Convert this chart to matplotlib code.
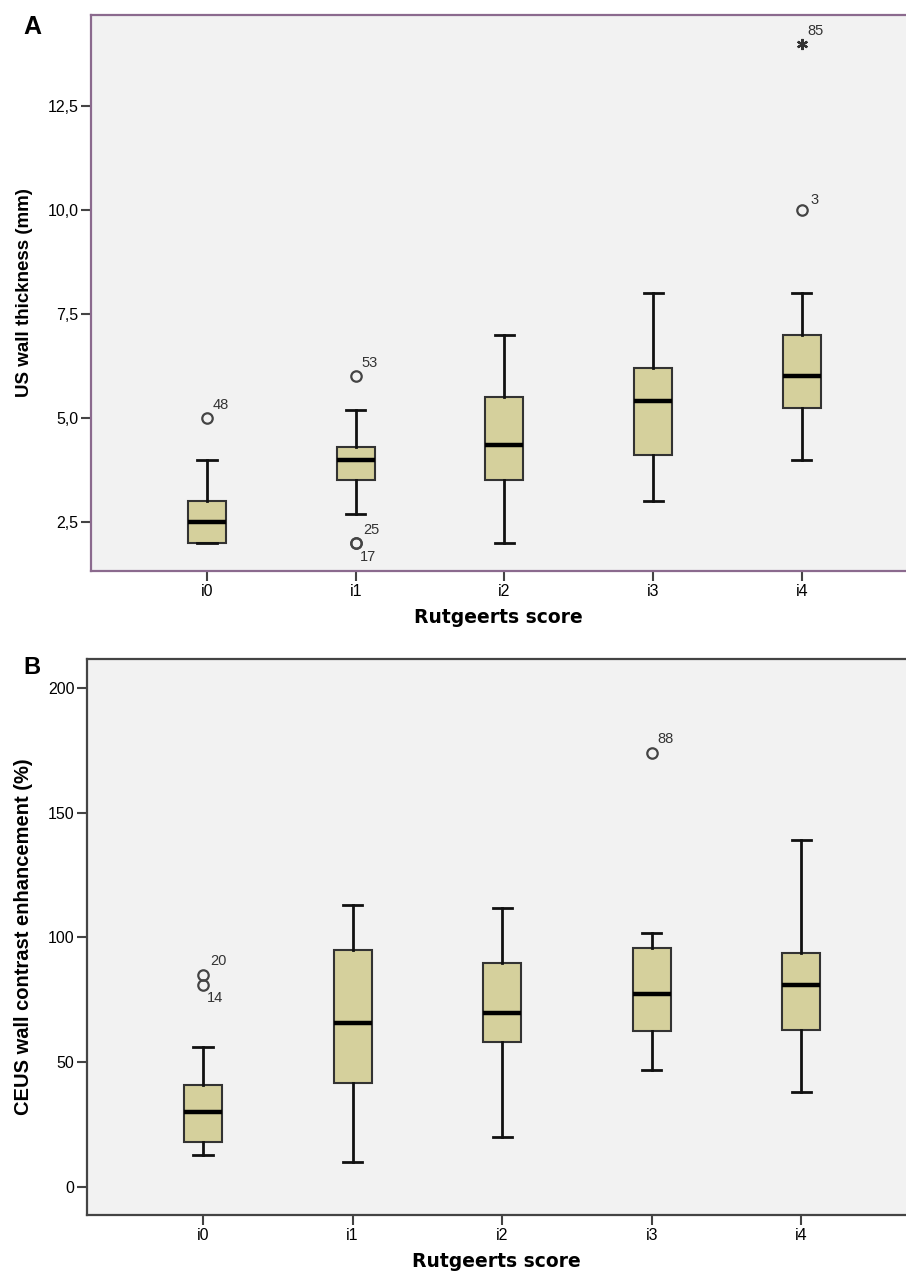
import matplotlib.pyplot as plt
from matplotlib.ticker import FuncFormatter

plt.rcParams['font.family'] = ['Liberation Sans', 'DejaVu Sans']

groups = ['i0', 'i1', 'i2', 'i3', 'i4']

# A - US wall thickness (mm)
us_whislo = [2.0, 2.7, 2.0, 3.0, 4.0]
us_q1 = [2.0, 3.5, 3.5, 4.1, 5.25]
us_med = [2.5, 4.0, 4.35, 5.4, 6.0]
us_q3 = [3.0, 4.3, 5.5, 6.2, 7.0]
us_whishi = [4.0, 5.2, 7.0, 8.0, 8.0]
us_out = [[5.0], [6.0, 2.0, 2.0], [], [], [10.0]]
us_out_ids = [['48'], ['53', '25', '17'], [], [], ['3']]
us_extreme = [[], [], [], [], [14.0]]
us_extreme_ids = [[], [], [], [], ['85']]

# B - CEUS wall contrast enhancement (%)
ceus_whislo = [13, 10, 20, 47, 38]
ceus_q1 = [18, 41.6, 58, 62.4, 62.8]
ceus_med = [30, 65.6, 69.6, 77.2, 80.8]
ceus_q3 = [41, 94.8, 89.6, 95.6, 93.6]
ceus_whishi = [56, 113, 112, 102, 139]
ceus_out = [[85, 81], [], [], [174], []]
ceus_out_ids = [['20', '14'], [], [], ['88'], []]

# label offsets (pixels) for the case numbers
us_id_off = {'48': (6, 13), '53': (6, 13), '25': (8, 13), '17': (4, -14), '3': (9, 10), '85': (5, 13)}
ceus_id_off = {'20': (7, 14), '14': (4, -13), '88': (6, 14)}

box_color = '#d5d09c'
bg = '#f2f2f2'

fig = plt.figure(figsize=(9.06, 12.74), dpi=100)
W, H = 906, 1274


def make_stats(lo, q1, med, q3, hi, out):
    stats = []
    for i in range(len(med)):
        stats.append({'whislo': lo[i], 'q1': q1[i], 'med': med[i], 'q3': q3[i],
                      'whishi': hi[i], 'fliers': out[i]})
    return stats


def draw_panel(ax, stats, spine_color):
    ax.set_facecolor(bg)
    ax.bxp(stats, positions=range(len(groups)), widths=0.255, capwidths=0.128,
           patch_artist=True, showfliers=True,
           boxprops=dict(facecolor=box_color, edgecolor='#333333', linewidth=1.5),
           medianprops=dict(color='black', linewidth=3.2),
           whiskerprops=dict(color='#111111', linewidth=2),
           capprops=dict(color='#111111', linewidth=2),
           flierprops=dict(marker='o', markerfacecolor='none', markeredgecolor='#444444',
                           markersize=7.5, markeredgewidth=1.6))
    for s in ['left', 'bottom', 'top']:
        ax.spines[s].set_color(spine_color)
        ax.spines[s].set_linewidth(1.6)
    ax.spines['right'].set_visible(False)
    ax.set_xticks(range(len(groups)))
    ax.set_xticklabels(groups)
    ax.tick_params(axis='both', direction='out', length=7, width=1.5, color='#444444',
                   labelsize=11.5, pad=2)
    ax.set_xlabel('Rutgeerts score', fontsize=13.5, fontweight='bold',
                  family='DejaVu Sans', labelpad=7)


def label_points(ax, values, ids, offsets):
    for i in range(len(values)):
        for v, t in zip(values[i], ids[i]):
            ax.annotate(t, (i, v), xytext=offsets[t], textcoords='offset pixels',
                        ha='left', va='center', fontsize=10.5, color='#333333')


# Panel A
axA = fig.add_axes([91 / W, 1 - 571 / H, 815 / W, 556 / H])
draw_panel(axA, make_stats(us_whislo, us_q1, us_med, us_q3, us_whishi, us_out), '#8b6a8e')
for i in range(len(groups)):
    if us_extreme[i]:
        axA.plot([i] * len(us_extreme[i]), us_extreme[i], linestyle='none',
                 marker=(6, 2, 0), markersize=8, markeredgewidth=1.6, color='#333333')
label_points(axA, us_out, us_out_ids, us_id_off)
label_points(axA, us_extreme, us_extreme_ids, us_id_off)
axA.set_xlim(-0.78, 4.70)
axA.set_ylim(1.32, 14.69)
axA.set_yticks([2.5, 5.0, 7.5, 10.0, 12.5])
axA.yaxis.set_major_formatter(FuncFormatter(lambda v, p: ('%.1f' % v).replace('.', ',')))
axA.set_ylabel('US wall thickness (mm)', fontsize=13.5, fontweight='bold')
axA.yaxis.set_label_coords(-0.071, 0.5)
fig.text(23 / W, 1 - 27 / H, 'A', fontsize=18, fontweight='bold', va='center', ha='left')

# Panel B
axB = fig.add_axes([87 / W, 1 - 1215 / H, 819 / W, 556 / H])
draw_panel(axB, make_stats(ceus_whislo, ceus_q1, ceus_med, ceus_q3, ceus_whishi, ceus_out), '#444444')
label_points(axB, ceus_out, ceus_out_ids, ceus_id_off)
axB.set_xlim(-0.776, 4.70)
axB.set_ylim(-11.2, 211.6)
axB.set_yticks([0, 50, 100, 150, 200])
axB.set_ylabel('CEUS wall contrast enhancement (%)', fontsize=14.5, fontweight='bold')
axB.yaxis.set_label_coords(-0.066, 0.5)
fig.text(23 / W, 1 - 667 / H, 'B', fontsize=17, fontweight='bold', va='center', ha='left')

fig.savefig('out.png', dpi=100)
